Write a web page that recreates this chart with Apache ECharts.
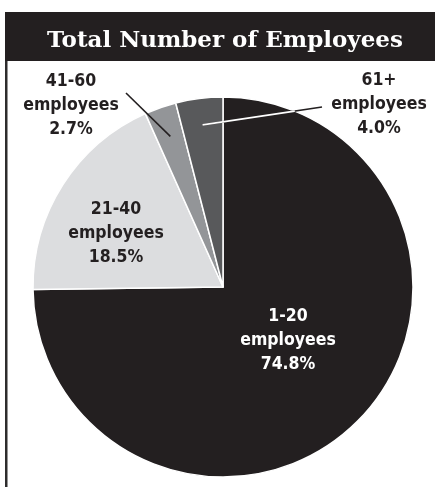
<!DOCTYPE html>
<html>
<head>
<meta charset="utf-8">
<script src="https://cdn.jsdelivr.net/npm/echarts@6/dist/echarts.min.js"></script>
<style>
  html, body { margin: 0; padding: 0; background: #ffffff; }
  #chart { width: 435px; height: 487px; }
</style>
</head>
<body>
<div id="chart"></div>
<script>
// Share of companies by headcount band
const categories = ['1-20', '21-40', '41-60', '61+'];
const shares = [74.8, 18.5, 2.7, 4.0];
const sliceColors = ['#231f20', '#dcdddf', '#939598', '#58595b'];
const labelColors = ['#ffffff', '#231f20', '#231f20', '#231f20'];

// Pie geometry
const CX = 223, CY = 287, R = 190;

// Where each label block is centred, and where the small-slice pointers end
const labelPos = [[288, 340], [116, 233], [71, 105], [379, 104]];
const pointerEnd = { 2: [126, 93], 3: [322, 107] };
const pointerDepth = { 2: 0.84, 3: 0.86 };

const chart = echarts.init(document.getElementById('chart'), null, { renderer: 'canvas' });

const total = shares.reduce((a, b) => a + b, 0);

// Point inside a slice along its bisector at a fraction of the radius
function slicePoint(i, depth) {
  let cum = 0;
  for (let k = 0; k < i; k++) cum += shares[k];
  const theta = 2 * Math.PI * (cum + shares[i] / 2) / total;
  return [CX + depth * R * Math.sin(theta), CY - depth * R * Math.cos(theta)];
}

// Where a segment leaves the pie circle
function circleExit(p, q) {
  const dx = q[0] - p[0], dy = q[1] - p[1];
  const fx = p[0] - CX, fy = p[1] - CY;
  const a = dx * dx + dy * dy, b = 2 * (fx * dx + fy * dy), c = fx * fx + fy * fy - R * R;
  const t = (-b + Math.sqrt(b * b - 4 * a * c)) / (2 * a);
  return [p[0] + t * dx, p[1] + t * dy];
}

const pointerGraphics = [];
Object.keys(pointerEnd).forEach(key => {
  const i = +key;
  const start = slicePoint(i, pointerDepth[i]);
  const end = pointerEnd[i];
  pointerGraphics.push({
    type: 'line', z: 100,
    shape: { x1: start[0], y1: start[1], x2: end[0], y2: end[1] },
    style: { stroke: '#231f20', lineWidth: 1.6 }
  });
  // Over the dark slice the pointer turns white
  if (i === 3) {
    const exit = circleExit(start, end);
    pointerGraphics.push({
      type: 'line', z: 101,
      shape: { x1: start[0], y1: start[1], x2: exit[0], y2: exit[1] },
      style: { stroke: '#ffffff', lineWidth: 1.8 }
    });
  }
});

const option = {
  backgroundColor: '#ffffff',
  animation: false,
  title: {
    text: 'Total Number of Employees',
    left: 220,
    top: 36,
    textAlign: 'center',
    textVerticalAlign: 'middle',
    textStyle: {
      color: '#ffffff',
      fontFamily: '"DejaVu Serif", serif',
      fontWeight: 'bold',
      fontSize: 23
    }
  },
  graphic: [
    { type: 'rect', z: -1, shape: { x: 5, y: 12, width: 430, height: 49 }, style: { fill: '#231f20' } },
    { type: 'rect', z: -1, shape: { x: 5, y: 61, width: 2.5, height: 426 }, style: { fill: '#2e2c2d' } }
  ].concat(pointerGraphics),
  series: [{
    type: 'pie',
    center: [CX, CY],
    radius: [0, R],
    startAngle: 90,
    clockwise: true,
    silent: true,
    itemStyle: { borderColor: '#ffffff', borderWidth: 1.5 },
    label: {
      show: true,
      position: 'inside',
      formatter: p => p.name + '\nemployees\n' + p.value.toFixed(1) + '%',
      fontFamily: '"DejaVu Sans Condensed", "DejaVu Sans", sans-serif',
      fontWeight: 'bold',
      fontSize: 17.5,
      lineHeight: 24,
      align: 'center',
      verticalAlign: 'middle'
    },
    labelLine: { show: false },
    labelLayout: params => ({
      x: labelPos[params.dataIndex][0],
      y: labelPos[params.dataIndex][1],
      align: 'center',
      verticalAlign: 'middle'
    }),
    data: categories.map((name, i) => ({
      name: name,
      value: shares[i],
      itemStyle: { color: sliceColors[i] },
      label: { color: labelColors[i] }
    }))
  }]
};

chart.setOption(option);
</script>
</body>
</html>
